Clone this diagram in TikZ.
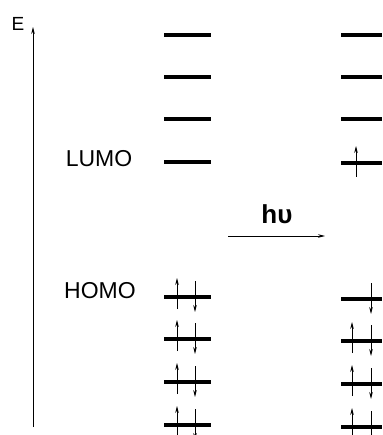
\documentclass[tikz,border=0pt]{standalone}
\usepackage{fontspec}
\setmainfont{Liberation Sans}
\usetikzlibrary{arrows.meta}

\begin{document}
\begin{tikzpicture}[
    x=1pt, y=-1pt,
    level/.style={line width=3.2pt},
    spin/.style={line width=0.8pt, -{Stealth[length=7pt, width=3.6pt]}},
    lbl/.style={font=\fontsize{23}{23}\selectfont, inner sep=0pt, anchor=base}
]
    \useasboundingbox (0,0) rectangle (382,435);

    % Achse der Energie
    \coordinate (e0) at (33,427);
    \coordinate (e1) at (33,27);
    \draw[spin] (e0) -- (e1);
    \node[lbl, font=\fontsize{19}{19}\selectfont] (elabel) at (18,31) {E};

    % Niveaus im Grundzustand
    \draw[level] (164,35) -- (211,35);
    \draw[level] (164,77) -- (211,77);
    \draw[level] (164,119) -- (211,119);
    \draw[level] (164,162) -- (211,162);
    \draw[level] (164,297) -- (211,297);
    \draw[level] (164,339) -- (211,339);
    \draw[level] (164,382) -- (211,382);
    \draw[level] (164,425) -- (211,425);
    \node[lbl] (lumo) at (99,167) {LUMO};
    \node[lbl] (homo) at (100,298) {HOMO};

    % Elektronenpaare
    \draw[spin] (177,309) -- (177,278);
    \draw[spin] (195,281) -- (195,312);
    \draw[spin] (177,351) -- (177,320);
    \draw[spin] (195,323) -- (195,354);
    \draw[spin] (177,394) -- (177,363);
    \draw[spin] (195,366) -- (195,397);
    \draw[spin] (177,437) -- (177,406);
    \draw[spin] (195,409) -- (195,440);

    % Anregung
    \coordinate (h0) at (228,236);
    \coordinate (h1) at (325,236);
    \draw[spin] (h0) -- (h1);
    \node[lbl, font=\fontsize{26}{26}\selectfont\bfseries] (hv) at (277,223) {hυ};

    % Niveaus im angeregten Zustand
    \draw[level] (341,35) -- (382,35);
    \draw[level] (341,77) -- (382,77);
    \draw[level] (341,119) -- (382,119);
    \draw[level] (341,163) -- (382,163);
    \draw[level] (341,299) -- (382,299);
    \draw[level] (341,341) -- (382,341);
    \draw[level] (341,384) -- (382,384);
    \draw[level] (341,427) -- (382,427);

    % Elektronen nach der Anregung
    \draw[spin] (356,177) -- (356,146);
    \draw[spin] (371,283) -- (371,314);
    \draw[spin] (352,353) -- (352,322);
    \draw[spin] (371,325) -- (371,356);
    \draw[spin] (352,396) -- (352,365);
    \draw[spin] (371,368) -- (371,399);
    \draw[spin] (352,439) -- (352,408);
    \draw[spin] (371,411) -- (371,442);
\end{tikzpicture}
\end{document}
